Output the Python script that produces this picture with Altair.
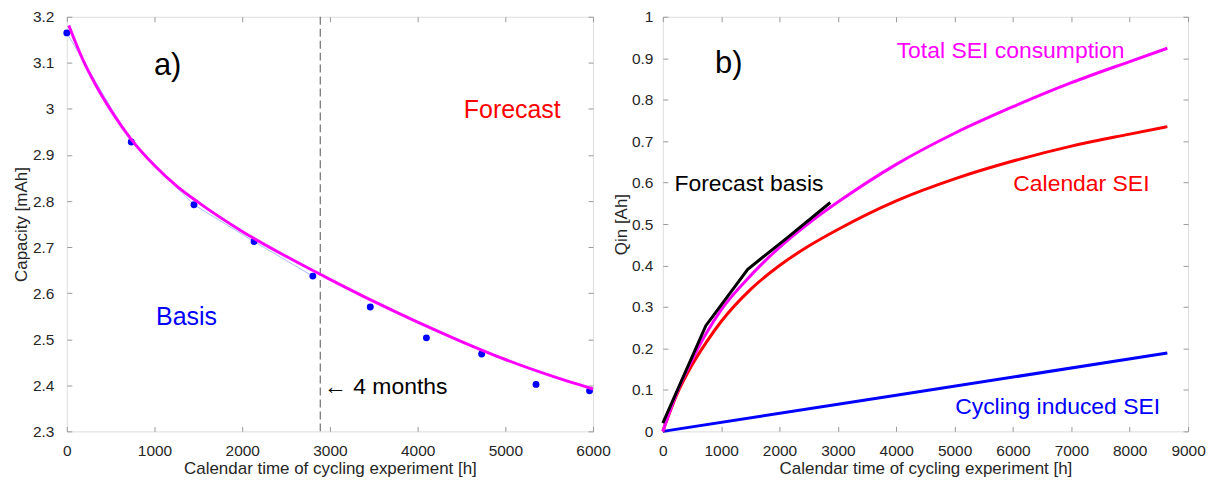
import altair as alt
import pandas as pd

# ---------- panel a) data ----------
a_time = [0, 735, 1450, 2135, 2805, 3460, 4100, 4730, 5350, 5960]
a_cap = [3.165, 2.928, 2.792, 2.712, 2.637, 2.570, 2.503, 2.468, 2.402, 2.388]
basis_n = 5  # first points form the forecast basis (thin connecting line)

fit_time = [23, 180, 330, 520, 730, 1000, 1250, 1500, 2000, 2500, 3000, 3500, 4000, 4500, 5000, 5500, 6000]
fit_cap = [3.181, 3.108, 3.052, 2.992, 2.935, 2.877, 2.833, 2.797, 2.734, 2.680, 2.630, 2.582, 2.537, 2.495, 2.456, 2.422, 2.392]

vline_a = [2890]

# ---------- panel b) data ----------
tot_time = [0, 250, 500, 750, 1000, 1500, 2000, 2500, 3000, 4000, 5000, 6000, 7000, 8000, 8645]
tot_q = [0.0, 0.097, 0.172, 0.238, 0.293, 0.375, 0.444, 0.502, 0.553, 0.644, 0.719, 0.783, 0.841, 0.892, 0.924]

cal_time = [0, 250, 500, 750, 1000, 1500, 2000, 2500, 3000, 4000, 5000, 6000, 7000, 8000, 8645]
cal_q = [0.0, 0.092, 0.160, 0.216, 0.265, 0.342, 0.400, 0.447, 0.487, 0.556, 0.609, 0.652, 0.688, 0.717, 0.735]

cyc_time = [0, 4000, 8645]
cyc_q = [0.0, 0.087, 0.189]

fb_time = [0, 737, 1455, 2140, 2870]
fb_q = [0.02, 0.255, 0.391, 0.468, 0.552]

FONT = "Liberation Sans"
GRAY = "#262626"
FRAME = "#999999"
TICK_FS = 15.5
TITLE_FS = 17


def inner_axis(orient, values, fmt, title=None, labels=True, pad=12, tpad=2):
    return alt.Axis(
        orient=orient, values=values, format=fmt, grid=False, domain=False,
        offset=-5, tickSize=5, tickColor=FRAME, tickWidth=1, labels=labels,
        labelFlush=False, labelOverlap=False,
        labelPadding=pad, labelFont=FONT, labelFontSize=TICK_FS, labelColor=GRAY,
        title=title if title is not None else "",
        titleFont=FONT, titleFontSize=TITLE_FS, titleColor=GRAY,
        titleFontWeight="normal", titlePadding=tpad,
    )


# ---------------- panel a ----------------
df_pts = pd.DataFrame({"t": a_time, "c": a_cap})
df_basis = df_pts.iloc[:basis_n]
df_fit = pd.DataFrame({"t": fit_time, "c": fit_cap})
df_vl = pd.DataFrame({"t": vline_a})

xa = alt.Scale(domain=[0, 6000], nice=False)
ya = alt.Scale(domain=[2.3, 3.2], nice=False)
xa_vals = [0, 1000, 2000, 3000, 4000, 5000, 6000]
ya_vals = [2.3, 2.4, 2.5, 2.6, 2.7, 2.8, 2.9, 3.0, 3.1, 3.2]

a_line = alt.Chart(df_basis).mark_line(color="#a9bcff", strokeWidth=1).encode(
    x=alt.X("t:Q", scale=xa, axis=inner_axis("bottom", xa_vals, "d", "Calendar time of cycling experiment [h]")),
    y=alt.Y("c:Q", scale=ya, axis=inner_axis("left", ya_vals, "~g", "Capacity  [mAh]", pad=13)),
)
a_pts = alt.Chart(df_pts).mark_circle(color="#0000FF", size=48, opacity=1).encode(
    x=alt.X("t:Q", scale=xa), y=alt.Y("c:Q", scale=ya)
)
a_fit = alt.Chart(df_fit).mark_line(color="#FF00FF", strokeWidth=3, interpolate="monotone").encode(
    x=alt.X("t:Q", scale=xa), y=alt.Y("c:Q", scale=ya)
)
a_rule = alt.Chart(df_vl).mark_rule(color="#707070", strokeDash=[8, 4], strokeWidth=1.2).encode(
    x=alt.X("t:Q", scale=xa)
)

a_texts = pd.DataFrame({
    "t": [993, 4527, 1018, 2932],
    "c": [3.093, 2.997, 2.548, 2.397],
    "label": ["a)", "Forecast", "Basis", "\u2190 4 months"],
    "col": ["#000000", "#FF0000", "#0000FF", "#000000"],
    "size": [31, 25, 25, 23],
})
a_txt = alt.Chart(a_texts).mark_text(font=FONT, align="left", baseline="middle").encode(
    x=alt.X("t:Q", scale=xa), y=alt.Y("c:Q", scale=ya),
    text="label:N",
    color=alt.Color("col:N", scale=None),
    size=alt.Size("size:Q", scale=None),
)
a_mirror = alt.Chart(df_pts).mark_point(opacity=0).encode(
    x=alt.X("t:Q", scale=xa, axis=inner_axis("top", xa_vals, "d", labels=False)),
    y=alt.Y("c:Q", scale=ya, axis=inner_axis("right", ya_vals, "~g", labels=False)),
)
panel_a = alt.layer(
    alt.layer(a_rule, a_line, a_pts, a_fit, a_txt),
    a_mirror,
).resolve_scale(x="independent", y="independent").properties(width=528, height=416)

# ---------------- panel b ----------------
xb = alt.Scale(domain=[0, 9000], nice=False)
yb = alt.Scale(domain=[0, 1], nice=False)
xb_vals = [0, 1000, 2000, 3000, 4000, 5000, 6000, 7000, 8000, 9000]
yb_vals = [0, 0.1, 0.2, 0.3, 0.4, 0.5, 0.6, 0.7, 0.8, 0.9, 1.0]

df_b = pd.concat([
    pd.DataFrame({"t": cyc_time, "q": cyc_q, "s": "cycling"}),
    pd.DataFrame({"t": cal_time, "q": cal_q, "s": "calendar"}),
    pd.DataFrame({"t": tot_time, "q": tot_q, "s": "total"}),
])
df_fb = pd.DataFrame({"t": fb_time, "q": fb_q})

b_lines = alt.Chart(df_b).mark_line(strokeWidth=3, interpolate="monotone").encode(
    x=alt.X("t:Q", scale=xb, axis=inner_axis("bottom", xb_vals, "d", "Calendar time of cycling experiment [h]")),
    y=alt.Y("q:Q", scale=yb, axis=inner_axis("left", yb_vals, "~g", "Qin  [Ah]", pad=10, tpad=1)),
    color=alt.Color("s:N", scale=alt.Scale(domain=["total", "calendar", "cycling"],
                                           range=["#FF00FF", "#FF0000", "#0000FF"]), legend=None),
    detail="s:N",
)
b_fb = alt.Chart(df_fb).mark_line(strokeWidth=3, color="#000000").encode(
    x=alt.X("t:Q", scale=xb), y=alt.Y("q:Q", scale=yb)
)
b_texts = pd.DataFrame({
    "t": [896, 4007, 200, 6005, 5009],
    "q": [0.885, 0.917, 0.596, 0.596, 0.058],
    "label": ["b)", "Total SEI consumption", "Forecast basis", "Calendar SEI", "Cycling induced SEI"],
    "col": ["#000000", "#FF00FF", "#000000", "#FF0000", "#0000FF"],
    "size": [31, 23, 23, 23, 23],
})
b_txt = alt.Chart(b_texts).mark_text(font=FONT, align="left", baseline="middle").encode(
    x=alt.X("t:Q", scale=xb), y=alt.Y("q:Q", scale=yb),
    text="label:N",
    color=alt.Color("col:N", scale=None),
    size=alt.Size("size:Q", scale=None),
)
b_mirror = alt.Chart(df_fb).mark_point(opacity=0).encode(
    x=alt.X("t:Q", scale=xb, axis=inner_axis("top", xb_vals, "d", labels=False)),
    y=alt.Y("q:Q", scale=yb, axis=inner_axis("right", yb_vals, "~g", labels=False)),
)
panel_b = alt.layer(
    alt.layer(b_lines, b_fb, b_txt),
    b_mirror,
).resolve_scale(x="independent", y="independent").properties(width=527, height=416)

chart = alt.hconcat(panel_a, panel_b, spacing=70, bounds="flush").properties(
    padding={"left": 3, "top": 0, "right": 0, "bottom": 0}
).configure_view(stroke=FRAME, strokeWidth=1).configure(background="white")

chart.save("out.html", embed_options={"renderer": "svg", "actions": False})
